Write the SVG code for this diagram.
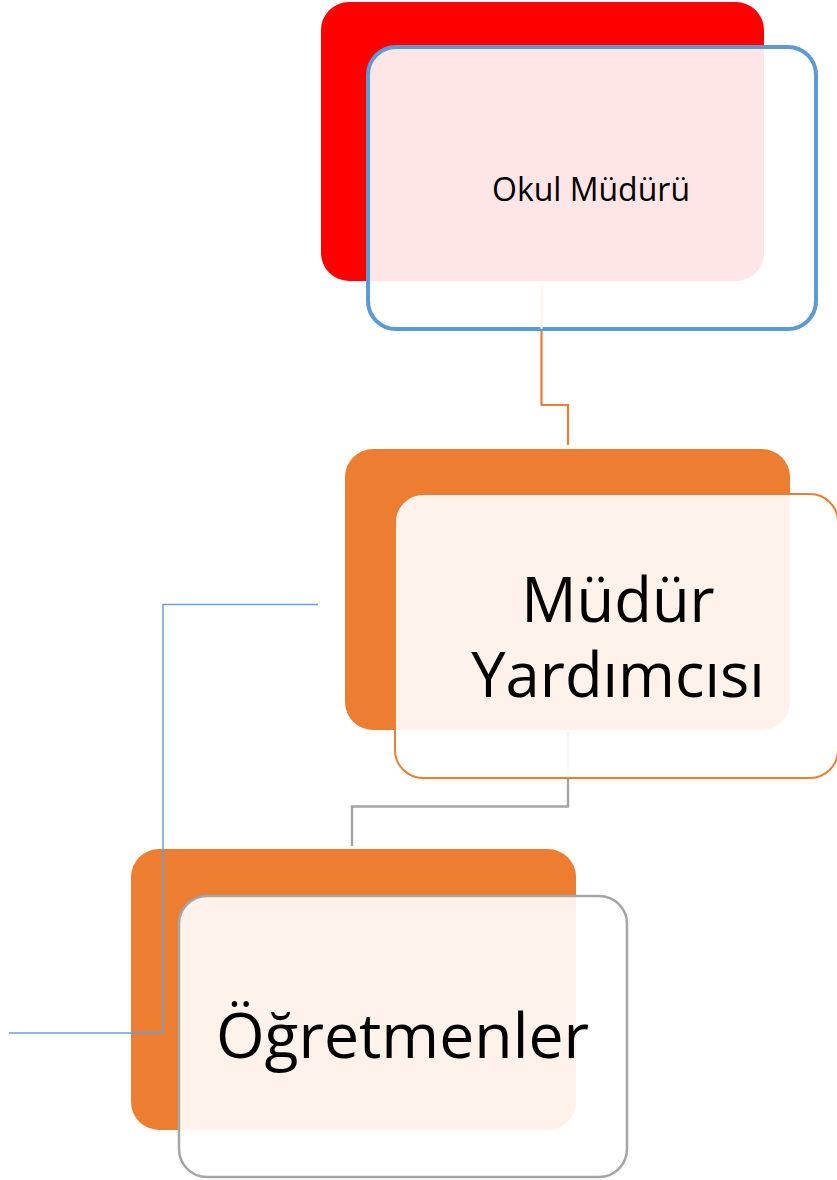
<svg xmlns="http://www.w3.org/2000/svg" width="837" height="1180" viewBox="0 0 837 1180">
  <style>
    .txt { font-family: "Open Sans", "Noto Sans", "Liberation Sans", sans-serif; fill: #000000; text-anchor: middle; }
    .front { fill: #FFFFFF; fill-opacity: 0.9; }
    .conn { fill: none; stroke-linejoin: miter; }
  </style>
  <rect width="837" height="1180" fill="#FFFFFF"/>

  <g id="node-okul-muduru">
    <rect x="321" y="2" width="443" height="279" rx="28" fill="#FF0000"/>
    <rect class="front" x="368" y="47" width="448" height="282" rx="28" stroke="#5B9BD5" stroke-width="4"/>
    <text class="txt" x="591" y="201" font-size="32">Okul Müdürü</text>
  </g>

  <g id="node-mudur-yardimcisi">
    <rect x="345" y="449" width="445" height="281" rx="28" fill="#ED7D31"/>
    <rect class="front" x="395" y="494" width="443" height="284" rx="28" stroke="#ED7D31" stroke-width="2"/>
    <text class="txt" x="618" y="622" font-size="61.5">Müdür</text>
    <text class="txt" x="618" y="697" font-size="61.5">Yardımcısı</text>
  </g>

  <g id="node-ogretmenler">
    <rect x="131" y="849" width="445" height="281" rx="28" fill="#ED7D31"/>
    <rect class="front" x="179" y="896" width="448" height="281" rx="28" stroke="#A5A5A5" stroke-width="2.5"/>
    <text class="txt" x="402.5" y="1058" font-size="62.5">Öğretmenler</text>
  </g>

  <g id="connectors">
    <path class="conn" d="M541.5 287 V329" stroke="#FDF2EA" stroke-width="2.2"/>
    <path class="conn" d="M541.5 331 V405 H568 V445" stroke="#ED7D31" stroke-width="2.2"/>
    <path class="conn" d="M568 733 V777" stroke="#F6F6F6" stroke-width="2.5"/>
    <path class="conn" d="M568 779 V806.5 H352 V846" stroke="#A5A5A5" stroke-width="2.5"/>
    <path class="conn" d="M318 604.5 H163 V1033 H9" stroke="#6A9FD8" stroke-width="1.5"/>
  </g>
</svg>
